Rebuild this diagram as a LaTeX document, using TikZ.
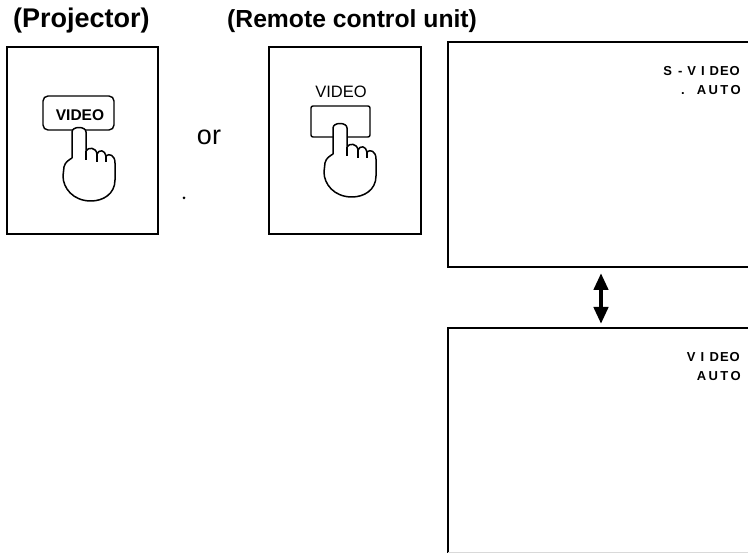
\documentclass[tikz,border=0pt]{standalone}
\usepackage{fontspec}
\setmainfont{Liberation Sans}
\usetikzlibrary{arrows.meta}
\tikzset{
  x=1pt,y=-1pt,
  panel/.style={draw=black,line width=1.8pt,fill=white,line join=miter},
  screenline/.style={draw=black,line width=1.6pt},
  handline/.style={draw=black,line width=1.5pt,fill=white,line join=round},
  titletext/.style={inner sep=0pt,anchor=base west},
  osd/.style={font=\bfseries\fontsize{13}{15}\selectfont,inner sep=0pt,anchor=base east},
  hand/.pic={
    \path[handline] (-7,6) .. controls (-7,0) and (7,0) .. (7,6) -- (7,25)
      .. controls (9,21) and (17,21) .. (18,28)
      .. controls (20,23) and (26,24) .. (27,30)
      .. controls (30,27) and (36,29) .. (36,37)
      -- (36,54) .. controls (36,68) and (24,75) .. (12,75)
      .. controls (-6,75) and (-16,62) .. (-16,50)
      -- (-15,41) .. controls (-14,36) and (-10,34) .. (-7,32) -- cycle;
    \draw[line width=1.3pt] (7,25) -- (7,34);
    \draw[line width=1.3pt] (18,28) -- (18,36);
    \draw[line width=1.3pt] (27,30) -- (27,36);
  }
}
\newcommand{\gp}[1]{\hspace{#1pt}}
\begin{document}
\begin{tikzpicture}
\useasboundingbox (0,0) rectangle (748,553);
\fill[white] (0,0) rectangle (748,553);
\node[titletext,font=\bfseries\fontsize{27}{29}\selectfont] (t1) at (13,28) {(Projector)};
\node[titletext,font=\bfseries\fontsize{24.7}{27}\selectfont] (t2) at (227,28) {(Remote control unit)};
\path[panel] (7,47) rectangle (158,234);
\path[panel] (269,47) rectangle (421,234);
\draw[line width=1.4pt,rounded corners=5pt] (43,96) rectangle (114,130);
\node[inner sep=0pt,font=\bfseries\fontsize{15.5}{17}\selectfont] (b1) at (80,115) {VIDEO};
\pic at (79,126) {hand};
\node[font=\fontsize{27}{29}\selectfont,inner sep=0pt,anchor=base] (or) at (209,145) {or};
\fill (184,198) circle (1.5pt);
\node[inner sep=0pt,font=\fontsize{16.5}{18}\selectfont] (b2) at (341,92) {VIDEO};
\draw[line width=1.4pt,rounded corners=2pt] (311,106) rectangle (370,137);
\pic at (340,122) {hand};
\draw[screenline] (748,42) -- (448,42) -- (448,267) -- (748,267);
\draw[screenline] (748,328) -- (448,328) -- (448,553);
\draw[gray!30,line width=0.8pt] (448,552) -- (748,552);
\node[osd] (s1) at (740,76) {S\gp{6}-\gp{5}V\gp{5}I\gp{5}D\gp{1}E\gp{1}O};
\node[osd] (s2) at (741,95) {.\gp{12}A\gp{2.4}U\gp{2.4}T\gp{2.4}O};
\node[osd] (s3) at (740,362) {V\gp{5}I\gp{5.5}D\gp{1}E\gp{1}O};
\node[osd] (s4) at (741,381) {A\gp{2.4}U\gp{2.4}T\gp{2.4}O};
\coordinate (up) at (601,273);
\coordinate (down) at (601,324);
\draw[line width=4.5pt,{Triangle[width=14pt,length=17pt]}-{Triangle[width=14pt,length=17pt]}] (up) -- (down);
\end{tikzpicture}
\end{document}
